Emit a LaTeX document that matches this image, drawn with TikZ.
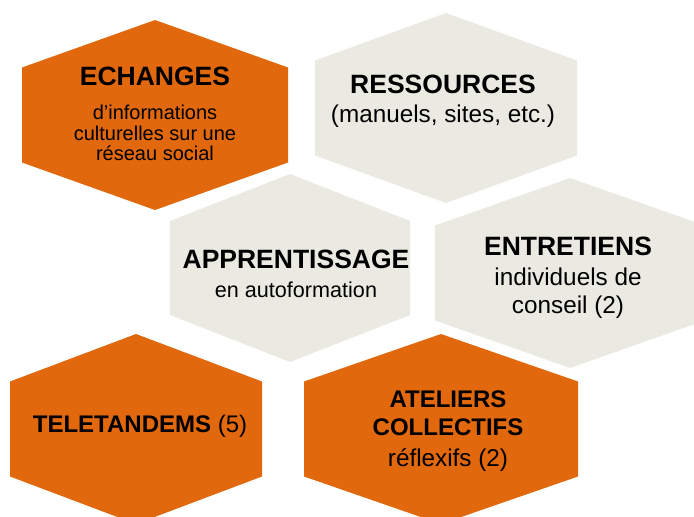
\documentclass[tikz,border=0pt]{standalone}
\usepackage{fontspec}
\setmainfont{Liberation Sans}
\usepackage{tikz}
\usetikzlibrary{positioning}
\definecolor{orng}{RGB}{225,104,13}
\definecolor{sand}{RGB}{235,234,226}

\begin{document}
\begin{tikzpicture}[x=1pt, y=-1pt]
 \tikzstyle{head}=[anchor=base, inner sep=0pt, font=\bfseries\fontsize{26.5}{30}\selectfont]
 \tikzstyle{headsm}=[anchor=base, inner sep=0pt, font=\bfseries\fontsize{24}{28}\selectfont]
 \tikzstyle{sub}=[anchor=base, inner sep=0pt, font=\fontsize{24.3}{28}\selectfont]
 \tikzstyle{small}=[anchor=base, inner sep=0pt, font=\fontsize{20}{24}\selectfont]

 \useasboundingbox (0,0) rectangle (694,517);

 % hexagons: centre x / centre y / half width / half height / colour
 \foreach \cx/\cy/\a/\b/\col in {155/115/133/95/orng, 446/108/131/95/sand,
   290/268/120/94/sand, 570/273/135/95/sand, 136/429/126/95/orng,
   441/429/137/95/orng}
   \fill[\col] (\cx,\cy-\b) -- (\cx+\a,\cy-\b/2) -- (\cx+\a,\cy+\b/2)
     -- (\cx,\cy+\b) -- (\cx-\a,\cy+\b/2) -- (\cx-\a,\cy-\b/2) -- cycle;

 % echanges
 \node[head] (ech) at (155,85) {ECHANGES};
 \node[small] (ech1) at (155,119) {d’informations};
 \node[small] (ech2) at (155,140) {culturelles sur une};
 \node[small] (ech3) at (155,160) {réseau social};

 % ressources
 \node[head] (res) at (443,93) {RESSOURCES};
 \node[sub] (res1) at (443,122) {(manuels, sites, etc.)};

 % apprentissage
 \node[head] (app) at (296,268) {APPRENTISSAGE};
 \node[small, font=\fontsize{21.6}{26}\selectfont] (app1) at (296,297) {en autoformation};

 % entretiens
 \node[head] (ent) at (568,255) {ENTRETIENS};
 \node[sub] (ent1) at (568,285) {individuels de};
 \node[sub] (ent2) at (568,313) {conseil (2)};

 % teletandems
 \node[headsm] (tel) at (140,432) {TELETANDEMS \mdseries(5)};

 % ateliers
 \node[headsm] (ate) at (448,407) {ATELIERS};
 \node[headsm] (ate1) at (448,435) {COLLECTIFS};
 \node[sub] (ate2) at (448,466) {réflexifs (2)};
\end{tikzpicture}
\end{document}
